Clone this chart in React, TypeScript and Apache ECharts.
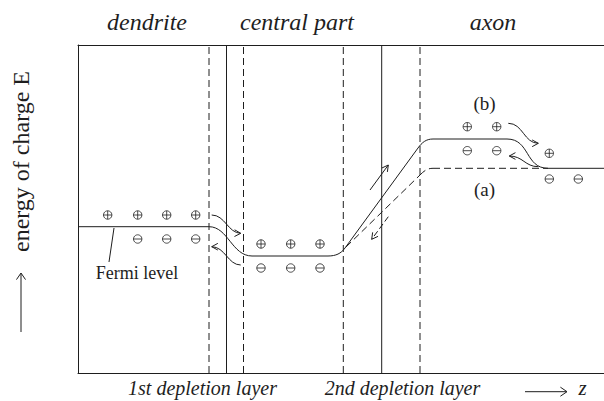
import React, { useEffect, useRef } from 'react';
import * as echarts from 'echarts';

// Schematic coordinates: z (position along the neuron) and E (energy), in arbitrary units
const Z_MAX = 526;
const E_MAX = 328;

const regionNames = ['dendrite', 'central part', 'axon'];
const regionCenters = [69, 219, 415];
const layerNames = ['1st depletion layer', '2nd depletion layer'];
const layerCenters = [124.5, 324.5];
const yAxisTitle = 'energy of charge E';
const zAxisTitle = 'z';
const fermiLabel = 'Fermi level';
const caseLabels = ['(b)', '(a)'];
const caseLabelPos: [number, number][] = [[406.5, 269.7], [406.5, 184]];

const depletionEdges = [131, 165.5, 265.3, 342];
const junctions = [148.5, 303.7];

// curve (b): solid energy level
const levelBNodes: [number, number][] = [
  [0, 146.3], [131, 146.3], [174, 117], [250, 117], [267, 125],
  [340, 225], [355, 234], [429, 234], [470, 204.7], [526, 204.7],
];
const levelBControls: ([number, number][] | null)[] = [
  null, [[150, 146.3], [154, 117]], null, [[258, 117], [263, 119.5]], null,
  [[344, 230.5], [348, 234]], null, [[452, 234], [447, 204.7]], null,
];
// curve (a): dashed energy level
const levelANodes: [number, number][] = [[268, 126], [342, 198], [355, 204.7], [470, 204.7]];
const levelAControls: ([number, number][] | null)[] = [null, [[346, 202], [349, 204.7]], null];

const plusCharges: [number, number][] = [
  [29.7, 158], [59.7, 158], [88.7, 158], [117.7, 158],
  [183, 129], [212.7, 129], [242, 129],
  [389.3, 246.3], [418.7, 246.3], [471.3, 219.7],
];
const minusCharges: [number, number][] = [
  [59.7, 134], [88.7, 134], [117.7, 134],
  [183, 105], [212.7, 105], [242, 105],
  [389.3, 222.3], [418.7, 222.3], [471.3, 194], [500.3, 194],
];

const arrowStarts: [number, number][] = [[133.7, 158], [162.7, 108], [292, 183], [310.3, 156.3], [430.3, 249.7], [460.3, 206.3]];
const arrowEnds: [number, number][] = [[162.7, 139.7], [133.7, 126.3], [310.3, 208], [293.7, 133.7], [460.3, 229.7], [431.3, 217]];
const arrowControls: ([number, number][] | null)[] = [
  [[147, 158], [150, 140]], [[150, 108], [147, 126.3]], null, null,
  [[445, 249.7], [446, 229.7]], [[447, 206.3], [445, 217]],
];
const arrowDashed = [false, false, false, true, false, false];

const fermiPointer: [number, number][] = [[36, 145], [31, 111]];

const INK = '#1e1e1e';
const SERIF = 'Liberation Serif';
const DASH = [7, 4];

function head(tip: number[], from: number[], len = 7, ang = 0.45) {
  const dx = tip[0] - from[0];
  const dy = tip[1] - from[1];
  const l = Math.hypot(dx, dy) || 1;
  const ux = dx / l, uy = dy / l;
  const rot = (a: number) => [
    tip[0] - len * (ux * Math.cos(a) - uy * Math.sin(a)),
    tip[1] - len * (ux * Math.sin(a) + uy * Math.cos(a)),
  ];
  return [rot(ang), tip, rot(-ang)];
}

function segSeries(nodes: [number, number][], controls: ([number, number][] | null)[], dashed: boolean) {
  return {
    type: 'custom',
    silent: true,
    clip: false,
    data: nodes.slice(0, -1),
    encode: { x: 0, y: 1 },
    renderItem: (params: any, api: any) => {
      const i = params.dataIndex;
      const p0 = api.coord(nodes[i]);
      const p1 = api.coord(nodes[i + 1]);
      const c = controls[i];
      const style = { stroke: INK, lineWidth: 1, fill: null, lineDash: dashed ? DASH : null };
      if (c) {
        const a = api.coord(c[0]);
        const b = api.coord(c[1]);
        return {
          type: 'bezierCurve',
          shape: { x1: p0[0], y1: p0[1], x2: p1[0], y2: p1[1], cpx1: a[0], cpy1: a[1], cpx2: b[0], cpy2: b[1] },
          style,
        };
      }
      return { type: 'line', shape: { x1: p0[0], y1: p0[1], x2: p1[0], y2: p1[1] }, style };
    },
  };
}

function chargeSeries(points: [number, number][], plus: boolean) {
  return {
    type: 'custom',
    silent: true,
    clip: false,
    data: points,
    encode: { x: 0, y: 1 },
    renderItem: (params: any, api: any) => {
      const p = api.coord([api.value(0), api.value(1)]);
      const r = 4.2;
      const st = { stroke: INK, lineWidth: 0.8, fill: null };
      const children: any[] = [
        { type: 'circle', shape: { cx: p[0], cy: p[1], r }, style: { ...st, fill: '#fff' } },
        { type: 'line', shape: { x1: p[0] - r, y1: p[1], x2: p[0] + r, y2: p[1] }, style: st },
      ];
      if (plus) children.push({ type: 'line', shape: { x1: p[0], y1: p[1] - r, x2: p[0], y2: p[1] + r }, style: st });
      return { type: 'group', children };
    },
  };
}

export default function App() {
  const ref = useRef<HTMLDivElement>(null);
  useEffect(() => {
    if (!ref.current) return;
    const chart = echarts.init(ref.current, null, { renderer: 'svg' });
    const axisCommon = {
      type: 'value',
      axisTick: { show: false },
      axisLabel: { show: false },
      splitLine: { show: false },
    };
    const text = (t: string, x: number, y: number, size: number, italic: boolean, extra: any = {}) => ({
      type: 'text',
      x,
      y,
      ...extra,
      style: {
        text: t,
        fill: INK,
        fontFamily: SERIF,
        fontSize: size,
        fontStyle: italic ? 'italic' : 'normal',
        textAlign: 'center',
        textVerticalAlign: 'middle',
      },
    });
    const gx = (z: number) => 78 + z;
    const gy = (e: number) => 373 - e;
    const graphic: any[] = [];
    regionNames.forEach((n, i) => graphic.push(text(n, gx(regionCenters[i]), 22, 24, true)));
    layerNames.forEach((n, i) => graphic.push(text(n, gx(layerCenters[i]), 388, 20, true)));
    graphic.push(text(zAxisTitle, 582.5, 388, 21, true));
    graphic.push(text(yAxisTitle, 21, 161.5, 24, false, { rotation: Math.PI / 2 }));
    graphic.push(text(fermiLabel, 137, 273, 18, false));
    caseLabels.forEach((n, i) => graphic.push(text(n, gx(caseLabelPos[i][0]), gy(caseLabelPos[i][1]), 19, false)));
    // direction arrows of the axes
    graphic.push({ type: 'line', shape: { x1: 525, y1: 391.7, x2: 566.5, y2: 391.7 }, style: { stroke: INK, lineWidth: 1 } });
    graphic.push({ type: 'polyline', shape: { points: head([567, 391.7], [525, 391.7], 8, 0.6) }, style: { stroke: INK, lineWidth: 1, fill: null } });
    graphic.push({ type: 'line', shape: { x1: 21, y1: 332, x2: 21, y2: 273.5 }, style: { stroke: INK, lineWidth: 1 } });
    graphic.push({ type: 'polyline', shape: { points: head([21, 273], [21, 332], 8, 0.6) }, style: { stroke: INK, lineWidth: 1, fill: null } });

    const option: any = {
      animation: false,
      textStyle: { fontFamily: SERIF },
      grid: { left: 78, top: 45, right: 0, bottom: 28, containLabel: false },
      xAxis: [
        { ...axisCommon, min: 0, max: Z_MAX, position: 'bottom', axisLine: { show: true, lineStyle: { color: INK, width: 1 } } },
        { ...axisCommon, min: 0, max: Z_MAX, position: 'top', axisLine: { show: true, lineStyle: { color: INK, width: 1 } } },
      ],
      yAxis: { ...axisCommon, min: 0, max: E_MAX, axisLine: { show: true, lineStyle: { color: INK, width: 1 } } },
      graphic,
      series: [
        {
          type: 'custom',
          silent: true,
          clip: false,
          data: [...depletionEdges.map((z) => [z, 1]), ...junctions.map((z) => [z, 0])],
          encode: { x: 0, y: 1 },
          renderItem: (params: any, api: any) => {
            const z = api.value(0);
            const dashed = api.value(1) === 1;
            const a = api.coord([z, 0]);
            const b = api.coord([z, E_MAX]);
            return {
              type: 'line',
              shape: { x1: a[0], y1: a[1], x2: b[0], y2: b[1] },
              style: { stroke: INK, lineWidth: 1, lineDash: dashed ? DASH : null },
            };
          },
        },
        segSeries(levelBNodes, levelBControls, false),
        segSeries(levelANodes, levelAControls, true),
        {
          type: 'custom',
          silent: true,
          clip: false,
          data: [fermiPointer[0]],
          encode: { x: 0, y: 1 },
          renderItem: (params: any, api: any) => {
            const a = api.coord(fermiPointer[0]);
            const b = api.coord(fermiPointer[1]);
            return { type: 'line', shape: { x1: a[0], y1: a[1], x2: b[0], y2: b[1] }, style: { stroke: INK, lineWidth: 1 } };
          },
        },
        {
          type: 'custom',
          silent: true,
          clip: false,
          data: arrowStarts,
          encode: { x: 0, y: 1 },
          renderItem: (params: any, api: any) => {
            const i = params.dataIndex;
            const s = api.coord(arrowStarts[i]);
            const e = api.coord(arrowEnds[i]);
            const c = arrowControls[i];
            const style = { stroke: INK, lineWidth: 1, fill: null, lineDash: arrowDashed[i] ? [6, 3] : null };
            const children: any[] = [];
            let prev = s;
            if (c) {
              const a = api.coord(c[0]);
              const b = api.coord(c[1]);
              prev = b;
              children.push({
                type: 'bezierCurve',
                shape: { x1: s[0], y1: s[1], x2: e[0], y2: e[1], cpx1: a[0], cpy1: a[1], cpx2: b[0], cpy2: b[1] },
                style,
              });
            } else {
              children.push({ type: 'line', shape: { x1: s[0], y1: s[1], x2: e[0], y2: e[1] }, style });
            }
            children.push({ type: 'polyline', shape: { points: head(e, prev, 7, 0.5) }, style: { stroke: INK, lineWidth: 1, fill: null } });
            return { type: 'group', children };
          },
        },
        chargeSeries(plusCharges, true),
        chargeSeries(minusCharges, false),
      ],
    };
    chart.setOption(option);
    return () => chart.dispose();
  }, []);
  return (
    <div
      ref={ref}
      style={{ position: 'fixed', left: 0, top: 0, width: 604, height: 401, background: '#fff' }}
    />
  );
}
